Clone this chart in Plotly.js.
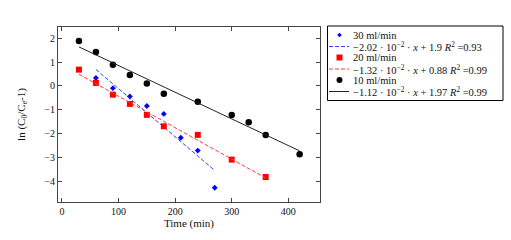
<!DOCTYPE html>
<html><head><meta charset="utf-8">
<script src="https://cdn.plot.ly/plotly-3.0.1.min.js"></script>
<style>html,body{margin:0;padding:0;background:#fff}#c{width:511px;height:240px}</style>
</head><body><div id="c"></div>
<script>
const xBlue = [60, 90, 120, 150, 180, 210, 240, 270];
const yBlue = [0.33, -0.1, -0.45, -0.85, -1.18, -2.18, -2.72, -4.28];
const xRed = [30, 60, 90, 120, 150, 180, 240, 300, 360];
const yRed = [0.68, 0.12, -0.37, -0.76, -1.22, -1.7, -2.06, -3.1, -3.83];
const xBlack = [30, 60, 90, 120, 150, 180, 240, 300, 330, 360, 420];
const yBlack = [1.88, 1.42, 0.88, 0.45, 0.1, -0.33, -0.67, -1.23, -1.53, -2.07, -2.87];
const fitBlue = {slope: -2.02e-2, icpt: 1.9, x0: 60, x1: 270};
const fitRed = {slope: -1.32e-2, icpt: 0.88, x0: 30, x1: 360};
const fitBlack = {slope: -1.12e-2, icpt: 1.97, x0: 30, x1: 420};
const names = ['30 ml/min', '20 ml/min', '10 ml/min'];
const fitLabels = [
  '\u22122.02 \u00b7 10<sup>\u22122</sup> \u00b7 <i>x</i> + 1.9 <i>R</i><sup>2</sup> =0.93',
  '\u22121.32 \u00b7 10<sup>\u22122</sup> \u00b7 <i>x</i> + 0.88 <i>R</i><sup>2</sup> =0.99',
  '\u22121.12 \u00b7 10<sup>\u22122</sup> \u00b7 <i>x</i> + 1.97 <i>R</i><sup>2</sup> =0.99'
];
const tickX = [0, 100, 200, 300, 400];
const tickY = [-4, -3, -2, -1, 0, 1, 2];
const tickYText = ['\u22124', '\u22123', '\u22122', '\u22121', '0', '1', '2'];

const colors = {blue:'#0000ff', blueLine:'#3b3bff', red:'#ff0000', redLine:'#ff3b3b', black:'#000000', blackLine:'#222222'};
function fitLine(f){ return {x:[f.x0,f.x1], y:[f.icpt+f.slope*f.x0, f.icpt+f.slope*f.x1]}; }
const fb = fitLine(fitBlue), fr = fitLine(fitRed), fk = fitLine(fitBlack);
const traces = [
  {x:xBlue,y:yBlue,mode:'markers',name:names[0],marker:{symbol:'diamond',size:4.5,color:colors.blue}},
  {x:fb.x,y:fb.y,mode:'lines',name:fitLabels[0],line:{color:colors.blueLine,width:1,dash:'4px,2px'}},
  {x:xRed,y:yRed,mode:'markers',name:names[1],marker:{symbol:'square',size:6,color:colors.red}},
  {x:fr.x,y:fr.y,mode:'lines',name:fitLabels[1],line:{color:colors.redLine,width:1,dash:'4px,2px'}},
  {x:xBlack,y:yBlack,mode:'markers',name:names[2],marker:{symbol:'circle',size:6.5,color:colors.black}},
  {x:fk.x,y:fk.y,mode:'lines',name:fitLabels[2],line:{color:colors.blackLine,width:1}}
];

// custom compact legend, positioned in pixels -> paper coords
const M = {l:58, r:191, t:27, b:38}, W = 511, H = 240;
const pw = W - M.l - M.r, ph = H - M.t - M.b;
const px = v => (v - M.l) / pw;
const py = v => (H - M.b - v) / ph;
const rowY = [35, 46.5, 57.5, 69, 80, 91.5];
const shapes = [
  {type:'rect', xref:'paper', yref:'paper', x0:px(327.5), x1:px(503), y0:py(26), y1:py(100.5),
   line:{color:'#000', width:1}, fillcolor:'#fff', layer:'above'}
];
const annotations = [];
const legendFont = {family:'"Liberation Serif","DejaVu Serif",serif', size:10.5, color:'#111'};
const legendText = [names[0], fitLabels[0], names[1], fitLabels[1], names[2], fitLabels[2]];
legendText.forEach((t,i)=>{
  annotations.push({xref:'paper', yref:'paper', x:px(351), y:py(rowY[i]), xanchor:'left', yanchor:'middle',
    text:t, showarrow:false, font:legendFont});
});
const mx = 339.5;
shapes.push({type:'path', xref:'paper', yref:'paper', layer:'above', fillcolor:colors.blue, line:{width:0},
  path:`M ${px(mx)},${py(rowY[0]-2.3)} L ${px(mx+2.3)},${py(rowY[0])} L ${px(mx)},${py(rowY[0]+2.3)} L ${px(mx-2.3)},${py(rowY[0])} Z`});
shapes.push({type:'rect', xref:'paper', yref:'paper', layer:'above', fillcolor:colors.red, line:{width:0},
  x0:px(mx-3), x1:px(mx+3), y0:py(rowY[2]-3), y1:py(rowY[2]+3)});
shapes.push({type:'circle', xref:'paper', yref:'paper', layer:'above', fillcolor:colors.black, line:{width:0},
  x0:px(mx-3), x1:px(mx+3), y0:py(rowY[4]-3), y1:py(rowY[4]+3)});
[[1,colors.blueLine,'4px,2px'],[3,colors.redLine,'4px,2px'],[5,colors.blackLine,'solid']].forEach(([i,c,d])=>{
  shapes.push({type:'line', xref:'paper', yref:'paper', layer:'above', x0:px(329), x1:px(349),
    y0:py(rowY[i]), y1:py(rowY[i]), line:{color:c, width:1, dash:d}});
});

const font = {family:'"Liberation Serif","DejaVu Serif",serif', size:10, color:'#111'};
const layout = {
  width:W, height:H,
  margin:M,
  paper_bgcolor:'#fff', plot_bgcolor:'#fff',
  font: font,
  showlegend:false,
  shapes: shapes,
  annotations: annotations,
  xaxis:{range:[-7,456], tickvals:tickX, ticks:'inside', ticklen:4, mirror:'ticks',
         showline:true, linecolor:'#444', linewidth:1, showgrid:false, zeroline:false,
         title:{text:'Time (min)', font:{family:font.family,size:11}, standoff:2}},
  yaxis:{range:[-4.88,2.47], tickvals:tickY, ticktext:tickYText, ticks:'inside', ticklen:4, mirror:'ticks',
         showline:true, linecolor:'#444', linewidth:1, showgrid:false, zeroline:false,
         title:{text:'ln (C<sub>0</sub>/C<sub>e</sub>-1)', font:{family:font.family,size:11}, standoff:16}}
};
Plotly.newPlot('c', traces, layout, {displayModeBar:false, staticPlot:true});
</script></body></html>
